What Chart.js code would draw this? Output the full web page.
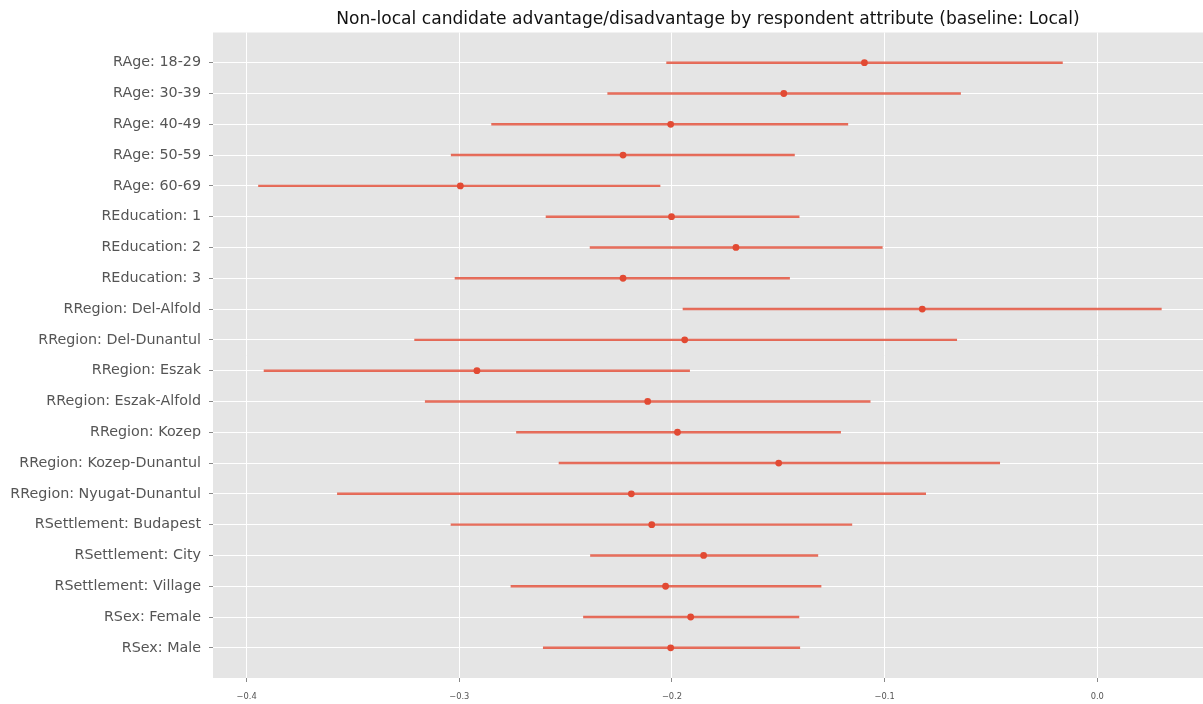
<!DOCTYPE html>
<html>
<head>
<meta charset="utf-8">
<title>Non-local candidate advantage/disadvantage</title>
<script src="https://cdn.jsdelivr.net/npm/chart.js@4/dist/chart.umd.min.js"></script>
<style>
  html, body { margin: 0; padding: 0; background: #ffffff; }
  #wrap { width: 1203px; height: 704px; position: relative; }
  canvas { display: block; }
</style>
</head>
<body>
<div id="wrap"><canvas id="chart" width="1203" height="704"></canvas></div>
<script>
// Respondent attributes, top to bottom
const categories = [
  'RAge: 18-29', 'RAge: 30-39', 'RAge: 40-49', 'RAge: 50-59', 'RAge: 60-69',
  'REducation: 1', 'REducation: 2', 'REducation: 3',
  'RRegion: Del-Alfold', 'RRegion: Del-Dunantul', 'RRegion: Eszak',
  'RRegion: Eszak-Alfold', 'RRegion: Kozep', 'RRegion: Kozep-Dunantul',
  'RRegion: Nyugat-Dunantul',
  'RSettlement: Budapest', 'RSettlement: City', 'RSettlement: Village',
  'RSex: Female', 'RSex: Male'
];

// Point estimates (effect of non-local vs. local candidate)
const estimates = [
  -0.1095, -0.1474, -0.2006, -0.2230, -0.2995,
  -0.2002, -0.1699, -0.2230,
  -0.0823, -0.1940, -0.2917, -0.2114, -0.1974, -0.1498, -0.2191,
  -0.2095, -0.1851, -0.2030,
  -0.1912, -0.2006
];

// Lower confidence bounds
const lowerBounds = [
  -0.2025, -0.2302, -0.2848, -0.3038, -0.3944,
  -0.2592, -0.2385, -0.3020,
  -0.1948, -0.3210, -0.3918, -0.3160, -0.2731, -0.2531, -0.3573,
  -0.3039, -0.2383, -0.2757,
  -0.2416, -0.2605
];

// Upper confidence bounds
const upperBounds = [
  -0.0164, -0.0643, -0.1173, -0.1424, -0.2056,
  -0.1402, -0.1011, -0.1447,
  0.0301, -0.0661, -0.1917, -0.1068, -0.1207, -0.0459, -0.0807,
  -0.1154, -0.1314, -0.1299,
  -0.1403, -0.1399
];

// Horizontal axis tick positions
const xTickValues = [-0.4, -0.3, -0.2, -0.1, 0.0];

const FONT = "'DejaVu Sans', 'Liberation Sans', sans-serif";
const RED = '#E24A33';
const RED_LINE = 'rgba(226, 74, 51, 0.8)';

// Paint the ggplot-style grey panel behind the data
const panelBackground = {
  id: 'panelBackground',
  beforeDraw(chart) {
    const { ctx, chartArea: a } = chart;
    ctx.save();
    ctx.fillStyle = '#E5E5E5';
    ctx.fillRect(a.left, a.top, a.right - a.left, a.bottom - a.top);
    ctx.restore();
  }
};

const intervalData = categories.map((c, i) => ({ x: [lowerBounds[i], upperBounds[i]], y: i }));
const pointData = categories.map((c, i) => ({ x: estimates[i], y: i }));

new Chart(document.getElementById('chart'), {
  type: 'bar',
  data: {
    datasets: [
      {
        type: 'bar',
        label: 'Interval',
        data: intervalData,
        backgroundColor: RED_LINE,
        borderWidth: 0,
        barThickness: 1.8,
        order: 2
      },
      {
        type: 'scatter',
        label: 'Estimate',
        data: pointData,
        backgroundColor: RED,
        borderColor: RED,
        borderWidth: 0,
        pointRadius: 3.4,
        pointHoverRadius: 3.4,
        order: 1
      }
    ]
  },
  plugins: [panelBackground],
  options: {
    responsive: false,
    animation: false,
    indexAxis: 'y',
    layout: { autoPadding: false, padding: { left: 0, right: 0, top: 0, bottom: 0 } },
    plugins: {
      legend: { display: false },
      tooltip: { enabled: false },
      title: {
        display: true,
        fullSize: false,
        text: 'Non-local candidate advantage/disadvantage by respondent attribute (baseline: Local)',
        color: '#111111',
        font: { family: FONT, size: 17.1, weight: 'normal', lineHeight: 1.2 },
        padding: { top: 9, bottom: 3 }
      }
    },
    scales: {
      x: {
        type: 'linear',
        position: 'bottom',
        min: -0.4158,
        max: 0.0497,
        afterBuildTicks(scale) {
          scale.ticks = xTickValues.map(v => ({ value: v }));
        },
        afterFit(scale) {
          scale.height = 26;
          scale.paddingLeft = 0;
          scale.paddingRight = 0;
        },
        ticks: {
          color: '#555555',
          font: { family: FONT, size: 8.3 },
          padding: 10,
          maxRotation: 0,
          callback: v => (v < 0 ? '\u2212' : '') + Math.abs(v).toFixed(1)
        },
        grid: {
          color: '#ffffff',
          lineWidth: 1,
          drawTicks: true,
          tickLength: 4,
          tickColor: '#888888',
          tickWidth: 1
        },
        border: { display: false }
      },
      y: {
        type: 'linear',
        position: 'left',
        reverse: true,
        offset: false,
        min: -0.98,
        max: 19.98,
        afterBuildTicks(scale) {
          scale.ticks = categories.map((c, i) => ({ value: i }));
        },
        afterFit(scale) {
          scale.width = 213;
          scale.paddingTop = 0;
          scale.paddingBottom = 0;
        },
        ticks: {
          color: '#555555',
          font: { family: FONT, size: 14.3 },
          padding: 8,
          callback: v => categories[v]
        },
        grid: {
          offset: false,
          color: '#ffffff',
          lineWidth: 1,
          drawTicks: true,
          tickLength: 4,
          tickColor: '#888888',
          tickWidth: 1
        },
        border: { display: false }
      }
    }
  }
});
</script>
</body>
</html>
